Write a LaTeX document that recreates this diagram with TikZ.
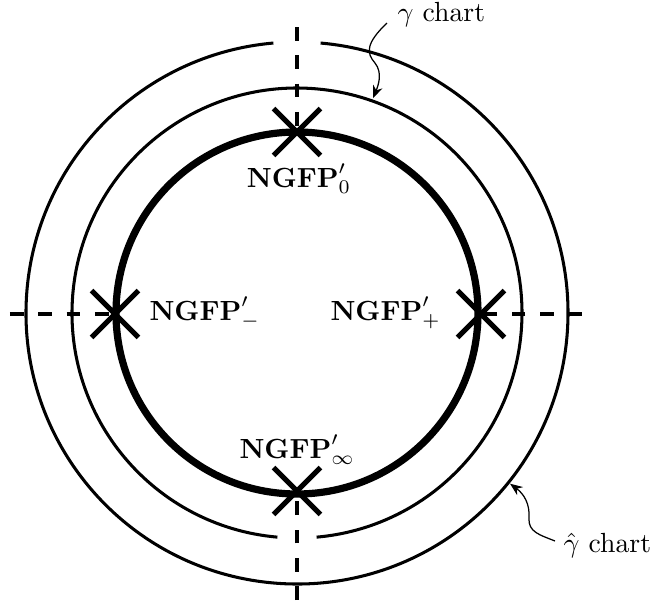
\documentclass[tikz,border=0pt]{standalone}
\usetikzlibrary{shapes.misc,arrows.meta,calc}
\begin{document}
\begin{tikzpicture}[x=0.361pt,y=-0.361pt,
  thincirc/.style={line width=1.1pt},
  thickcirc/.style={line width=2.6pt},
  axisline/.style={line width=1.1pt, dash pattern=on 5pt off 5.2pt},
  fp/.style={cross out, draw, line width=1.9pt, minimum size=15pt, inner sep=0pt},
  lab/.style={inner sep=0pt, anchor=base west},
  ptr/.style={line width=0.45pt, -{Stealth[length=4.5pt,width=3.6pt]}}]
\useasboundingbox (0,0) rectangle (657,602);
\coordinate (c) at (297,313);
% fixed points (positions)
\coordinate (q0) at ($(c)+(0,-181)$);
\coordinate (qinf) at ($(c)+(0,178)$);
\coordinate (qm) at ($(c)+(-182,1)$);
\coordinate (qp) at ($(c)+(184,1)$);
% dashed axes (outside the inner circle only)
\coordinate (hl) at (10,314);
\coordinate (hr) at (582,314);
\coordinate (vt) at (297,27);
\coordinate (vb) at (297,600);
\draw[axisline] (hl) -- (qm);
\draw[axisline] (hr) -- (qp);
\draw[axisline] (vt) -- (q0);
\draw[axisline] (vb) -- (qinf);
% outer circle with gap at top
\draw[thincirc] (c) ++(-85:271) arc[start angle=-85, end angle=265, radius=271];
% middle circle with gap at bottom
\draw[thincirc] (c) ++(95:225) arc[start angle=95, end angle=445, radius=225];
% inner thick circle
\draw[thickcirc] (c) circle[radius=181];
% fixed points
\node[fp] (p0) at (q0) {};
\node[fp] (pinf) at (qinf) {};
\node[fp] (pm) at (qm) {};
\node[fp] (pp) at (qp) {};
% labels
\node[inner sep=0pt, anchor=base] (l0) at (299,187) {$\mathbf{NGFP}'_0$};
\node[lab] (lm) at (149,320) {$\mathbf{NGFP}'_-$};
\node[lab] (lp) at (330,320) {$\mathbf{NGFP}'_+$};
\node[lab] (linf) at (239,458) {$\mathbf{NGFP}'_\infty$};
\node[lab] (lg) at (397,21) {$\gamma$ chart};
\node[lab] (lgh) at (563,552) {$\hat\gamma$ chart};
% pointers
\coordinate (ga) at (387,23);
\coordinate (gb) at ($(c)+(-70.5:228)$);
\draw[ptr] (ga) .. controls (366,43) and (366,53) .. (375,63)
                .. controls (383,73) and (378,86) .. (gb);
\coordinate (ha) at (555,541);
\coordinate (hb) at ($(c)+(38.7:273)$);
\draw[ptr] (ha) .. controls (540,535) and (528,532) .. (529,518)
                .. controls (530,504) and (524,494) .. (hb);
\end{tikzpicture}
\end{document}
